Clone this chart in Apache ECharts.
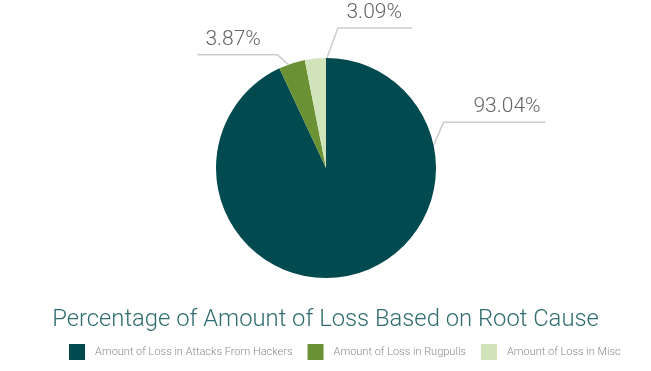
<!DOCTYPE html>
<html>
<head>
<meta charset="utf-8">
<script src="https://cdn.jsdelivr.net/npm/echarts@6/dist/echarts.min.js"></script>
<style>
html,body{margin:0;padding:0;background:#fff;}
#chart{width:651px;height:371px;}
</style>
</head>
<body>
<div id="chart"></div>
<script>
const categories = ['Amount of Loss in Attacks From Hackers', 'Amount of Loss in Rugpulls', 'Amount of Loss in Misc'];
const values = [93.04, 3.87, 3.09];
const colors = ['#014a50', '#6a9133', '#d1e3b9'];
const titleText = 'Percentage of Amount of Loss Based on Root Cause';

const cx = 326, cy = 168, R = 110;
const FONT = 'Roboto';
// label guide geometry: angle (deg clockwise from top) where line leaves the pie,
// elbow offset, horizontal run length (signed), text inset from line end
const guides = [
  { angle: 78, ex: 10, ey: -23, run: 102, inset: 5 },
  { angle: -20, ex: -11, ey: -10, run: -80, inset: 8 },
  { angle: 0.5, ex: 11, ey: -30, run: 74, inset: 10 }
];

const chart = echarts.init(document.getElementById('chart'));
chart.setOption({
  animation: false,
  title: {
    text: titleText,
    left: 'center',
    top: 303,
    textStyle: { fontFamily: FONT, fontWeight: 300, fontSize: 23.8, color: '#2f6d70' }
  },
  legend: {
    top: 339,
    left: 64,
    itemWidth: 16,
    itemHeight: 16,
    itemGap: 15,
    icon: 'rect',
    textStyle: { fontFamily: FONT, fontWeight: 300, fontSize: 11, color: '#8a8a8a', padding: [0, 0, 0, 5] },
    data: categories
  },
  series: [{
    type: 'pie',
    center: [cx, cy],
    radius: R,
    startAngle: 90,
    clockwise: true,
    color: colors,
    data: categories.map((c, i) => ({ name: c, value: values[i] })),
    label: {
      show: true,
      formatter: p => p.value.toFixed(2) + '%',
      fontFamily: FONT,
      fontWeight: 300,
      fontSize: 21,
      color: '#666'
    },
    labelLine: { show: true, lineStyle: { color: '#cccccc', width: 1.5 } },
    labelLayout: function (params) {
      const g = guides[params.dataIndex];
      const a = g.angle * Math.PI / 180;
      const sx = cx + R * Math.sin(a), sy = cy - R * Math.cos(a);
      const exx = sx + g.ex, eyy = sy + g.ey;
      const endx = exx + g.run;
      const right = g.run > 0;
      return {
        x: right ? endx - g.inset : endx + g.inset,
        y: eyy - 15,
        align: right ? 'right' : 'left',
        verticalAlign: 'middle',
        labelLinePoints: [[sx, sy], [exx, eyy], [endx, eyy]]
      };
    }
  }]
});
</script>
</body>
</html>
